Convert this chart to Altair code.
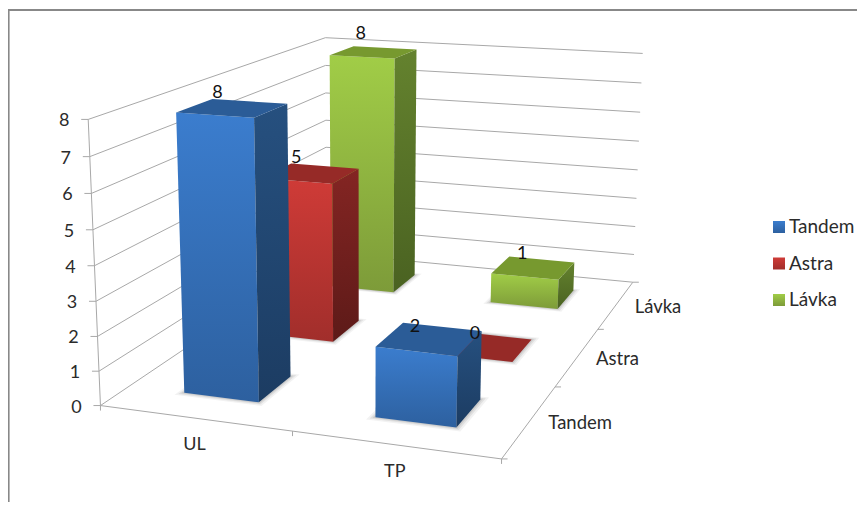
import altair as alt
import numpy as np
import pandas as pd

categories = ["UL", "TP"]
series = ["Tandem", "Astra", "Lávka"]
tandem_values = [8, 2]
astra_values = [5, 0]
lavka_values = [8, 1]
values_by_series = [tandem_values, astra_values, lavka_values]
z_ticks = list(range(0, 9))

# Camera calibration of the pseudo-3D box: (u, v, z) -> page pixel
left_front = [(100, 405), (99, 371), (97.5, 336), (96, 301), (94.5, 266), (93, 230), (91.5, 193), (90, 157), (88.3, 119.5)]
right_back = [(633, 281), (634, 254), (635, 226), (636.3, 198.7), (637.7, 170), (639, 141.7), (640, 112.7), (641.7, 83), (642.7, 53.3)]
corner_pts = [((1, 0, 0), (501.5, 460)), ((0, 1, 0), (327, 254.6)), ((0, 1, 8), (325, 37))]
world, image = [], []
for z in z_ticks:
    world.append((0, 0, z)); image.append(left_front[z])
    world.append((1, 1, z)); image.append(right_back[z])
for w, i in corner_pts:
    world.append(w); image.append(i)
rows = []
for (X_, Y_, Z_), (a, b) in zip(world, image):
    a, b = a / 500, b / 500
    rows.append([X_, Y_, Z_, 1, 0, 0, 0, 0, -a * X_, -a * Y_, -a * Z_, -a])
    rows.append([0, 0, 0, 0, X_, Y_, Z_, 1, -b * X_, -b * Y_, -b * Z_, -b])
P = np.linalg.svd(np.array(rows, float))[2][-1].reshape(3, 4)


def proj(u, v, z):
    h = P @ np.array([u, v, z, 1.0])
    return float(h[0] / h[2] * 500), float(h[1] / h[2] * 500)


WIDTH, HEIGHT = 849, 494
xs = alt.Scale(domain=[8, 8 + WIDTH], range=[0, WIDTH])
ys = alt.Scale(domain=[8, 8 + HEIGHT], range=[0, HEIGHT])
X = alt.X("x:Q", scale=xs, axis=None)
Y = alt.Y("y:Q", scale=ys, axis=None)
GRID = "#a8a8a8"
TXT = "#2b2b2b"
FONT = "Lato"
layers = []


def segments(segs, color=GRID, width=1.0):
    recs = []
    for k, (a, b) in enumerate(segs):
        recs.append({"x": a[0], "y": a[1], "s": k, "o": 0})
        recs.append({"x": b[0], "y": b[1], "s": k, "o": 1})
    return alt.Chart(pd.DataFrame(recs)).mark_line(color=color, strokeWidth=width).encode(
        x=X, y=Y, detail="s:N", order="o:Q")


def poly(pts, fill, opacity=1.0):
    df = pd.DataFrame([{"x": p[0], "y": p[1], "o": i} for i, p in enumerate(pts + pts[:1])])
    return alt.Chart(df).mark_line(fill=fill, stroke=None, strokeWidth=0, opacity=opacity).encode(
        x=X, y=Y, order="o:Q")


def grad(top, bottom):
    return alt.LinearGradient(gradient="linear", x1=0, x2=0, y1=0, y2=1,
                              stops=[alt.GradientStop(color=top, offset=0),
                                     alt.GradientStop(color=bottom, offset=1)])


def label(x, y, text, size=19, color=TXT, align="center"):
    df = pd.DataFrame([{"x": x, "y": y, "t": text}])
    return alt.Chart(df).mark_text(font=FONT, fontSize=size, color=color, align=align, baseline="middle").encode(
        x=X, y=Y, text="t:N")


# frame of the picture
layers.append(segments([((8.8, 10), (8.8, 502))], "#888888", 1.6))
layers.append(segments([((8, 10), (857, 10))], "#888888", 2))

# walls and floor
segs = []
for z in z_ticks:
    segs.append((proj(0, 0, z), proj(0, 1, z)))
    segs.append((proj(0, 1, z), proj(1, 1, z)))
    a = proj(0, 0, z)
    segs.append((a, (a[0] - 7, a[1])))
segs.append((proj(0, 0, 0), proj(0, 0, 8)))
segs.append((proj(0, 0, 0), proj(1, 0, 0)))
segs.append((proj(1, 0, 0), proj(1, 1, 0)))
for u in [0, 0.5, 1]:
    a = proj(u, 0, 0)
    segs.append((a, (a[0], a[1] + 5)))
for v in [0, 1 / 3, 2 / 3, 1]:
    a = proj(1, v, 0)
    segs.append((a, (a[0] + 6, a[1])))
layers.append(segments(segs))

# bars: back row first
PALETTE = {
    "Tandem": dict(front=("#3b7dce", "#2d609f"), side=("#26507f", "#1c3c62"), top="#2b5c97"),
    "Astra": dict(front=("#cf3b37", "#a12e2b"), side=("#842523", "#5d1a18"), top="#962a27"),
    "Lávka": dict(front=("#a1cd47", "#7d9b39"), side=("#64822e", "#4a6221"), top="#77992f"),
}
HU, HV = 0.1, 1 / 15
for si in [2, 1, 0]:
    vc = (si + 0.5) / 3
    v0, v1 = vc - HV, vc + HV
    pal = PALETTE[series[si]]
    for ci in [0, 1]:
        uc = (ci + 0.5) / 2
        u0, u1 = uc - HU, uc + HU
        h = values_by_series[si][ci]
        for e, op in [(0.016, 0.05), (0.010, 0.07), (0.005, 0.09)]:
            ee = e * 0.9
            layers.append(poly([proj(u0 - e, v0 - ee, 0), proj(u1 + e, v0 - ee, 0),
                                proj(u1 + e, v1 + ee, 0), proj(u0 - e, v1 + ee, 0)], "#000000", op))
        if h > 0:
            layers.append(poly([proj(u0, v0, h), proj(u1, v0, h), proj(u1, v0, 0), proj(u0, v0, 0)],
                               grad(*pal["front"])))
            layers.append(poly([proj(u1, v0, h), proj(u1, v1, h), proj(u1, v1, 0), proj(u1, v0, 0)],
                               grad(*pal["side"])))
        layers.append(poly([proj(u0, v0, h), proj(u1, v0, h), proj(u1, v1, h), proj(u0, v1, h)], pal["top"]))

# data labels, anchored on the bar's back-left top corner
LABEL_NUDGE = {(0, 0): (5, -6), (0, 1): (12, 4), (1, 0): (5, -6), (1, 1): (14, 2), (2, 0): (7, -12), (2, 1): (13, -2)}
for si in range(3):
    vc = (si + 0.5) / 3
    for ci in range(2):
        uc = (ci + 0.5) / 2
        h = values_by_series[si][ci]
        a = proj(uc - HU, vc + HV, h)
        dx, dy = LABEL_NUDGE[(si, ci)]
        layers.append(label(a[0] + dx, a[1] + dy, str(h), 18, "#111111"))

# axis texts
for z in z_ticks:
    a = proj(0, 0, z)
    layers.append(label(a[0] - 24, a[1] + 2, str(z), 18))
cat_anchor = [proj(0.25, 0, 0), proj(0.75, 0, 0)]
for name, a in zip(categories, cat_anchor):
    layers.append(label(a[0], a[1] + 27, name, 18))
for si, name in enumerate(series):
    a = proj(1, (si + 0.5) / 3, 0)
    layers.append(label(a[0] + 18.5, a[1] + 2, name, 18.5, align="left"))

# legend
LEG_Y = [227, 263.5, 300]
for name, yy in zip(series, LEG_Y):
    top, bottom = PALETTE[name]["front"]
    df = pd.DataFrame([{"x": 773, "x2": 785, "y": yy - 6, "y2": yy + 6}])
    layers.append(alt.Chart(df).mark_rect(fill=grad(top, bottom), stroke=None).encode(
        x=X, x2="x2:Q", y=Y, y2="y2:Q"))
    layers.append(label(789, yy, name, 19, align="left"))

chart = alt.layer(*layers).properties(
    width=WIDTH, height=HEIGHT, padding=0, autosize=alt.AutoSizeParams(type="none"),
    background="white"
).configure_view(stroke=None)
chart.save("out.html", embed_options={"renderer": "svg", "actions": False})
